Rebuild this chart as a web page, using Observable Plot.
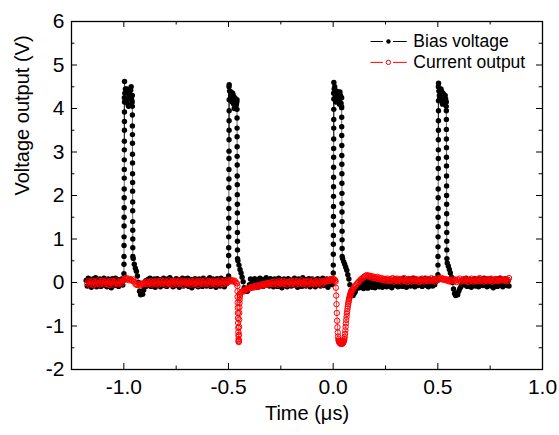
<!DOCTYPE html>
<html><head><meta charset="utf-8">
<script src="https://cdn.jsdelivr.net/npm/d3@7"></script>
<script src="https://cdn.jsdelivr.net/npm/@observablehq/plot@0.6"></script>
<style>body{margin:0;background:#fff}svg{display:block}</style>
</head><body><div id="chart"></div>
<script>
// ---- data ----
const xTicks = [-1.0, -0.5, 0.0, 0.5, 1.0];
const xMinor = [-0.75, -0.25, 0.25, 0.75];
const yTicks = [-2, -1, 0, 1, 2, 3, 4, 5, 6];
const yMinor = [-1.5, -0.5, 0.5, 1.5, 2.5, 3.5, 4.5, 5.5];
const seriesNames = ["Bias voltage", "Current output"];

// Bias voltage, uniform samples from t = -1.18 us, step 0.005 us
const biasT0 = -1.18, biasDt = 0.005;
const biasBase = [
0.05,-0.08,0.1,-0.04,0.07,-0.11,0.02,0.09,-0.06,0.11,-0.1,0.04,-0.02,0.08,-0.09,0.06,-0.05,0.1,-0.07,0.03,
-0.1,0.08,-0.03,0.06,-0.12,0.09,0.01,-0.07,0.1,-0.05,0.07,-0.09,0.04,-0.02,0.08,-0.06,
0.05,
4.35,4.2,4.45,4.1,4.4,4.25,4.5,4.15,
0.55,0.42,0.33,0.26,0.15,0.0,-0.2,-0.28,-0.24,-0.27,-0.17,
-0.1,0.04,-0.08,0.07,-0.03,0.1,-0.09,0.05,-0.06,0.08,-0.11,0.02,0.09,-0.04,0.06,-0.1,0.07,-0.02,0.1,-0.07,
0.03,-0.09,0.08,-0.05,0.11,-0.03,0.06,-0.1,0.04,-0.07,0.09,-0.02,0.07,-0.11,0.05,-0.04,0.1,-0.08,0.02,0.08,
-0.06,0.1,-0.09,0.03,0.07,-0.12,0.05,-0.03,0.09,-0.07,0.04,-0.1,0.08,-0.01,0.06,-0.09,0.1,-0.05,0.03,-0.08,
0.07,-0.04,0.11,-0.09,0.02,0.08,-0.06,0.05,-0.11,0.09,-0.02,0.06,-0.08,0.1,-0.05,0.03,-0.1,0.07,-0.03,0.06,
0.04,
4.4,4.3,4.2,4.35,4.1,4.25,4.05,4.15,
0.5,0.4,0.3,0.22,0.12,0.02,-0.12,-0.2,-0.17,-0.2,-0.12,
-0.05,0.08,-0.1,0.04,-0.03,0.09,-0.07,0.06,-0.11,0.03,0.1,-0.05,0.07,-0.09,0.02,-0.06,0.11,-0.04,0.05,-0.08,
0.09,-0.02,0.06,-0.1,0.08,-0.05,0.03,-0.09,0.1,-0.03,0.07,-0.12,0.04,0.08,-0.06,0.02,-0.1,0.09,-0.04,0.06,
-0.08,0.05,-0.02,0.1,-0.07,0.03,-0.11,0.08,-0.04,0.06,-0.09,0.11,-0.03,0.04,-0.08,0.07,-0.05,0.09,-0.1,0.02,
0.08,-0.06,0.05,-0.1,0.03,0.09,-0.04,0.07,-0.08,0.02,0.1,-0.07,0.05,-0.03,0.08,-0.11,0.06,-0.02,0.09,-0.05,
0.06,
4.45,4.3,4.4,4.2,4.35,4.1,4.3,4.05,
0.55,0.48,0.42,0.35,0.28,0.18,0.08,-0.05,-0.2,-0.27,-0.3,-0.25,-0.22,-0.15,-0.12,-0.1,
-0.12,0.02,-0.1,0.05,-0.14,-0.02,-0.09,0.04,-0.13,0.0,-0.08,0.06,-0.11,-0.03,0.03,-0.12,0.01,-0.07,0.05,-0.1,
-0.02,0.06,-0.11,0.03,-0.06,0.08,-0.1,0.01,0.07,-0.08,0.04,-0.12,0.06,-0.03,0.09,-0.07,0.02,-0.1,0.08,-0.04,
0.05,-0.09,0.1,-0.06,0.03,-0.11,0.07,-0.02,0.09,-0.08,0.04,-0.05,0.1,-0.1,0.02,0.07,-0.07,0.05,-0.03,0.08,
-0.09,0.06,-0.04,0.1,-0.07,0.03,-0.1,0.08,-0.02,0.05,-0.08,0.09,-0.05,0.02,0.07,
0.05,
4.4,4.25,4.45,4.15,4.35,4.2,4.3,4.05,
0.45,0.38,0.3,0.22,0.12,0.0,-0.15,-0.25,-0.3,-0.27,-0.28,-0.2,-0.14,-0.1,-0.05,0.03,
0.08,-0.06,0.1,-0.09,0.04,-0.03,0.07,-0.11,0.05,-0.05,0.09,-0.08,0.02,0.06,-0.1,0.08,-0.04,0.03,-0.07,0.1,
-0.05,0.07,-0.1,0.04,-0.02,0.09,-0.08,0.05,-0.12,0.06,-0.03,0.08,-0.09,0.02,0.1,-0.06,0.04,-0.1,0.07,-0.04,0.09,-0.07,0.03,-0.08
];
// pulse edges (many samples within a tiny time span)
const biasEdgeDt = 0.00015;
const biasRiseT = [-0.9995, -0.4995, 0.0005, 0.5005];
const biasFallT = [-0.9595, -0.4595, 0.0405, 0.5405];
const biasRise = [
 [0.2,0.42,0.6,0.85,1.05,1.3,1.5,1.72,1.95,2.15,2.4,2.6,2.82,3.05,3.25,3.5,3.7,3.92,4.15,4.62],
 [0.15,0.38,0.62,0.8,1.05,1.25,1.48,1.7,1.92,2.18,2.38,2.6,2.85,3.02,3.28,3.5,3.72,3.95,4.2,4.55],
 [0.22,0.4,0.65,0.88,1.08,1.32,1.52,1.75,1.98,2.2,2.42,2.65,2.88,3.08,3.3,3.55,3.75,3.98,4.22,4.6],
 [0.18,0.4,0.6,0.82,1.05,1.28,1.5,1.7,1.95,2.15,2.4,2.62,2.85,3.05,3.28,3.5,3.72,3.95,4.18,4.58]
];
const biasFall = [
 [4.3,4.05,3.85,3.6,3.4,3.2,2.95,2.75,2.5,2.3,2.1,1.85,1.65,1.4,1.2,1.0,0.8,0.6],
 [4.2,3.98,3.78,3.55,3.35,3.12,2.9,2.7,2.45,2.25,2.02,1.8,1.6,1.38,1.15,0.95,0.75,0.55],
 [4.25,4.02,3.8,3.58,3.38,3.15,2.92,2.72,2.5,2.28,2.05,1.82,1.62,1.4,1.18,0.98,0.78,0.6],
 [4.15,3.95,3.75,3.52,3.3,3.1,2.88,2.68,2.45,2.22,2.0,1.8,1.58,1.35,1.15,0.95,0.75,0.55]
];
// extra samples on the pulse tops (between the uniform samples)
const biasTopT = [-0.9975, -0.4975, 0.0025, 0.5025];
const biasTop = [
 [4.25,4.45,4.15,4.38,4.05,4.3,4.42,4.2],
 [4.5,4.2,4.38,4.15,4.3,4.0,4.22,4.1],
 [4.35,4.5,4.15,4.4,4.25,4.18,4.38,4.12],
 [4.5,4.3,4.2,4.4,4.1,4.32,4.15,4.22]
];

// Current output
const currentA_T0 = -1.175, currentDt = 0.005;
const currentA = [
-0.02,0.03,-0.05,0.01,-0.03,0.04,-0.06,0.0,0.02,-0.04,0.05,-0.02,-0.05,0.03,-0.01,0.04,
-0.04,0.01,0.05,-0.03,0.0,-0.06,0.03,-0.02,0.04,-0.05,0.02,-0.01,0.05,-0.04,0.01,-0.03,
0.03,-0.02,0.04,0.06,0.08,0.1,0.07,0.09,0.05,0.08,0.06,0.04,0.07,0.02,-0.03,-0.05,
-0.06,-0.04,-0.07,-0.03,-0.05,-0.02,-0.04,0.0,-0.03,0.02,-0.04,0.01,-0.02,0.03,-0.05,0.0,
0.02,-0.04,0.04,-0.01,-0.05,0.03,-0.02,0.05,-0.03,0.0,0.04,-0.05,0.01,-0.02,0.05,-0.04,
0.0,0.03,-0.05,0.02,-0.01,0.04,-0.04,0.01,0.05,-0.03,-0.01,0.04,-0.06,0.02,0.0,-0.03,
0.04,-0.02,0.01,-0.05,0.03,0.0,-0.04,0.05,-0.02,0.02,-0.06,0.03,-0.01,0.04,-0.03,0.01,
-0.04,0.05,-0.02,0.0,0.03,-0.05,0.02,-0.01,0.04,-0.03,0.01,-0.05,0.03,0.0,-0.02,0.05,
-0.03,0.02,-0.04,0.04,0.0,-0.02,0.05,0.01,0.04,0.06,0.03,0.05,0.02,0.04,0.0,-0.02
];
const spike1T0 = -0.4575, spike1Dt = 0.0005;
const currentSpike1 = [-0.08,-0.2,-0.33,-0.46,-0.58,-0.7,-0.82,-0.93,-1.04,-1.14,-1.22,-1.3,-1.35,-1.37,-1.33,-1.2,-1.02,-0.85,-0.7,-0.57,-0.47,-0.4,-0.34,-0.3];
const currentB_T0 = -0.445;
const currentB = [
-0.26,-0.23,-0.21,-0.19,-0.2,-0.16,-0.17,-0.14,-0.15,-0.12,-0.13,-0.1,-0.12,-0.09,-0.11,-0.08,
-0.1,-0.07,-0.09,-0.05,-0.08,-0.04,-0.07,-0.03,-0.06,-0.02,-0.05,-0.01,-0.04,0.0,-0.03,0.01,
-0.04,0.02,-0.03,0.0,-0.05,0.03,-0.02,0.01,-0.04,0.04,-0.01,-0.03,0.02,-0.05,0.01,0.0,
0.03,-0.04,0.02,-0.02,0.04,-0.05,0.0,0.03,-0.03,0.01,-0.01,0.05,-0.04,0.02,-0.02,0.03,
-0.05,0.01,0.04,-0.03,0.0,-0.02,0.05,-0.04,0.02,0.0,-0.03,0.04,-0.01,0.02,-0.05,0.03,
0.0,0.04,0.02,0.05,0.03,0.06,0.04,0.08,0.06,0.09,0.07,0.05
];
const spike2T0 = 0.0115, spike2Dt = 0.0015;
const currentSpike2 = [
0.02,-0.12,-0.3,-0.5,-0.7,-0.88,-1.03,-1.15,-1.24,-1.3,-1.34,-1.36,-1.38,-1.35,-1.4,-1.37,-1.41,-1.36,-1.39,-1.4,
-1.37,-1.41,-1.38,-1.4,-1.36,-1.38,-1.35,-1.33,-1.3,-1.25,-1.18,-1.1,-1.02,-0.94,-0.86,-0.79,-0.72,-0.66,-0.6,-0.55,
-0.5,-0.46,-0.42,-0.38,-0.35,-0.32,-0.29,-0.27,-0.25,-0.23,-0.21,-0.2,-0.18,-0.17,-0.16
];
const currentC_T0 = 0.095;
const currentC = [
-0.14,-0.11,-0.08,-0.05,-0.02,0.01,0.03,0.06,0.08,0.1,0.12,0.14,0.15,0.17,0.14,0.16,
0.13,0.15,0.11,0.14,0.1,0.12,0.09,0.13,0.08,0.11,0.07,0.1,0.06,0.09,0.05,0.08,
0.04,0.09,0.06,0.03,0.08,0.05,0.1,0.02,0.07,0.04,0.09,0.03,0.06,0.08,0.02,0.07,
0.05,0.1,0.03,0.06,0.01,0.08,0.04,0.07,0.02,0.09,0.05,0.03,0.08,0.04,0.06,0.01,
0.07,0.03,0.09,0.05,0.02,0.06,0.04,0.08,0.03,0.07,0.05,0.1,0.04,0.06,0.02,0.08,
0.05,0.07,0.1,0.08,0.11,0.07,0.09,0.06,0.08,0.05,0.07,0.03,0.06,0.02,0.05,0.04,
0.08,0.03,0.06,0.01,0.07,0.04,0.09,0.02,0.05,0.07,0.03,0.08,0.04,0.06,0.01,0.07,
0.04,0.09,0.05,0.02,0.07,0.03,0.06,0.08,0.04,0.1,0.03,0.05,0.07,0.02,0.06,0.04,
0.08,0.03,0.07,0.05,0.09,0.02,0.06,0.04,0.08,0.05,0.03,0.07,0.04,0.09,0.06,0.05,
0.07,0.04,0.08,0.03,0.06,0.1
];

// ---- build tables ----
const seq = (t0, dt, vals) => vals.map((v, i) => ({t: t0 + i * dt, v}));
let bias = seq(biasT0, biasDt, biasBase);
biasRiseT.forEach((t0, p) => {
  bias = bias.concat(
    seq(t0, biasEdgeDt, biasRise[p]),
    seq(biasTopT[p], biasDt, biasTop[p]),
    seq(biasFallT[p], biasEdgeDt, biasFall[p]));
});
bias.sort((a, b) => a.t - b.t);
const current = [].concat(
  seq(currentA_T0, currentDt, currentA),
  seq(spike1T0, spike1Dt, currentSpike1),
  seq(currentB_T0, currentDt, currentB),
  seq(spike2T0, spike2Dt, currentSpike2),
  seq(currentC_T0, currentDt, currentC)
);

const X0 = -1.25, X1 = 1.0, Y0 = -2, Y1 = 6;
const tkX = 0.0287, tkY = 0.138, mkX = 0.016, mkY = 0.08;
const FONT = "'Liberation Sans', Arial, Helvetica, sans-serif";

const legY = [5.54, 5.06];
const legColor = ["black", "red"];

const chart = Plot.plot({
  width: 559, height: 435,
  marginLeft: 71, marginRight: 17, marginTop: 21, marginBottom: 66,
  style: {fontFamily: FONT, fontSize: "21px", background: "white", color: "black"},
  x: {domain: [X0, X1]},
  y: {domain: [Y0, Y1]},
  marks: [
    // ticks (inward) on all four sides
    Plot.ruleX(xTicks, {x: d => d, y1: Y0, y2: Y0 + tkY, stroke: "black"}),
    Plot.ruleX(xTicks, {x: d => d, y1: Y1, y2: Y1 - tkY, stroke: "black"}),
    Plot.ruleX(xMinor, {x: d => d, y1: Y0, y2: Y0 + mkY, stroke: "black"}),
    Plot.ruleX(xMinor, {x: d => d, y1: Y1, y2: Y1 - mkY, stroke: "black"}),
    Plot.ruleY(yTicks, {y: d => d, x1: X0, x2: X0 + tkX, stroke: "black"}),
    Plot.ruleY(yTicks, {y: d => d, x1: X1, x2: X1 - tkX, stroke: "black"}),
    Plot.ruleY(yMinor, {y: d => d, x1: X0, x2: X0 + mkX, stroke: "black"}),
    Plot.ruleY(yMinor, {y: d => d, x1: X1, x2: X1 - mkX, stroke: "black"}),
    // bias voltage
    Plot.line(bias, {x: "t", y: "v", stroke: "#222", strokeWidth: 0.7}),
    Plot.dot(bias, {x: "t", y: "v", r: 2.7, fill: "black", stroke: null}),
    // current output
    Plot.line(current, {x: "t", y: "v", stroke: "red", strokeWidth: 0.7}),
    Plot.dot(current, {x: "t", y: "v", r: 2.7, fill: "none", stroke: "red", strokeWidth: 1}),
    Plot.frame({stroke: "black", strokeWidth: 1.3}),
    Plot.axisX({ticks: xTicks, tickSize: 0, tickPadding: 10, tickFormat: d => d.toFixed(1), label: null, fontSize: 21}),
    Plot.axisY({ticks: yTicks, tickSize: 0, tickPadding: 7, tickFormat: d => String(d), label: null, fontSize: 21}),
    // axis titles
    Plot.text(["Time (\u03bcs)"], {frameAnchor: "bottom", dy: 50, fontSize: 20, text: d => d}),
    Plot.text(["Voltage output (V)"], {frameAnchor: "left", dx: -49, rotate: -90, fontSize: 20, text: d => d}),
    // legend
    Plot.ruleY(legY, {y: d => d, x1: 0.181, x2: 0.240, stroke: (d, i) => legColor[i], strokeWidth: 1}),
    Plot.ruleY(legY, {y: d => d, x1: 0.288, x2: 0.354, stroke: (d, i) => legColor[i], strokeWidth: 1}),
    Plot.dot(legY.slice(0, 1), {x: 0.264, y: d => d, r: 2.2, fill: "black"}),
    Plot.dot(legY.slice(1), {x: 0.264, y: d => d, r: 2.2, fill: "none", stroke: "red", strokeWidth: 1}),
    Plot.text(seriesNames, {x: 0.383, y: (d, i) => legY[i], text: d => d, textAnchor: "start", fontSize: 17.5})
  ]
});
document.getElementById("chart").append(chart);
</script></body></html>
